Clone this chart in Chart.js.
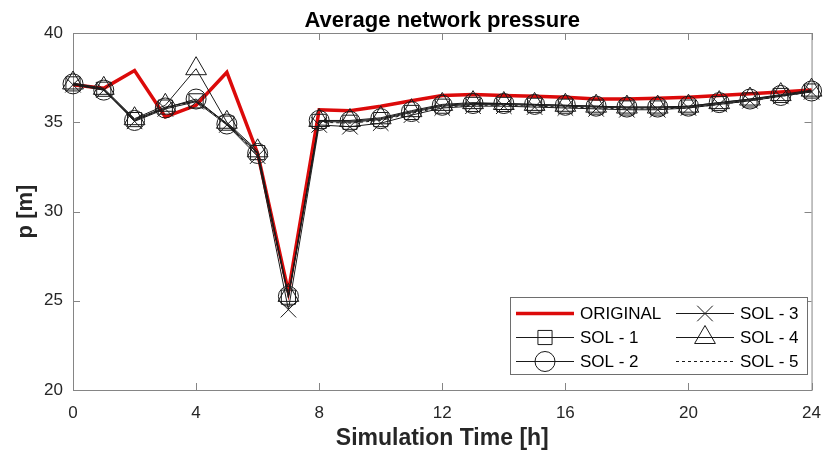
<!DOCTYPE html>
<html>
<head>
<meta charset="utf-8">
<script src="https://cdn.jsdelivr.net/npm/chart.js@4/dist/chart.umd.min.js"></script>
<style>
  html, body { margin: 0; padding: 0; background: #fff; }
  #wrap { width: 834px; height: 458px; }
</style>
</head>
<body>
<div id="wrap"><canvas id="showdata" width="834" height="458"></canvas></div>
<script>
// hours of simulation
const hours = [0, 1, 2, 3, 4, 5, 6, 7, 8, 9, 10, 11, 12, 13, 14, 15, 16, 17, 18, 19, 20, 21, 22, 23, 24];

// average pressure p [m]
const original = [37.1, 36.9, 37.9, 35.3, 35.95, 37.8, 33.25, 25.5, 35.7, 35.65, 35.9, 36.2, 36.5, 36.55, 36.5, 36.45, 36.4, 36.3, 36.3, 36.35, 36.4, 36.5, 36.6, 36.7, 36.8];
const sol1 = [37.15, 36.85, 35.15, 35.85, 36.2, 34.95, 33.3, 25.2, 35.05, 35.0, 35.15, 35.55, 35.9, 36.0, 36.0, 35.95, 35.9, 35.85, 35.8, 35.8, 35.85, 36.05, 36.25, 36.5, 36.75];
const sol2 = [37.15, 36.8, 35.1, 35.8, 36.3, 34.9, 33.25, 25.25, 35.1, 35.05, 35.2, 35.6, 35.95, 36.05, 36.05, 36.0, 35.95, 35.9, 35.85, 35.85, 35.9, 36.1, 36.3, 36.5, 36.75];
const sol3 = [37.1, 36.8, 35.05, 35.75, 36.15, 34.85, 33.1, 24.5, 34.85, 34.75, 34.95, 35.4, 35.8, 35.9, 35.9, 35.85, 35.8, 35.75, 35.7, 35.7, 35.8, 36.0, 36.2, 36.45, 36.7];
const sol4 = [37.2, 36.9, 35.2, 35.95, 38.0, 35.0, 33.4, 25.3, 35.1, 35.1, 35.25, 35.65, 36.0, 36.1, 36.05, 36.0, 35.95, 35.9, 35.85, 35.85, 35.9, 36.1, 36.3, 36.55, 36.8];
const sol5 = [37.1, 36.85, 35.1, 35.8, 36.2, 34.9, 33.2, 25.15, 35.0, 34.95, 35.1, 35.5, 35.85, 35.95, 35.95, 35.9, 35.85, 35.8, 35.75, 35.75, 35.8, 36.0, 36.2, 36.45, 36.7];

const seriesNames = ['ORIGINAL', 'SOL - 1', 'SOL - 2', 'SOL - 3', 'SOL - 4', 'SOL - 5'];
const xTicks = [0, 4, 8, 12, 16, 20, 24];
const yTicks = [20, 25, 30, 35, 40];

const FONT = "'Liberation Sans', Arial, Helvetica, sans-serif";
const AXIS_COLOR = '#858585';
const TEXT_COLOR = '#262626';

function pts(values) {
  return hours.map((h, i) => ({ x: h, y: values[i] }));
}

function solSet(label, values, style, radius, dash) {
  return {
    label: label,
    data: pts(values),
    borderColor: '#1a1a1a',
    borderWidth: 1,
    borderDash: dash || [],
    pointStyle: style,
    pointRadius: style ? radius : 0,
    pointHoverRadius: style ? radius : 0,
    pointBorderColor: '#1a1a1a',
    pointBackgroundColor: 'rgba(0,0,0,0)',
    pointBorderWidth: 1,
    tension: 0,
    clip: false,
    order: 0
  };
}

const datasets = [
  {
    label: seriesNames[0],
    data: pts(original),
    borderColor: '#dc0a0a',
    borderWidth: 3.5,
    pointRadius: 0,
    pointHoverRadius: 0,
    tension: 0,
    clip: false,
    order: 1
  },
  solSet(seriesNames[1], sol1, 'rect', 10),
  solSet(seriesNames[2], sol2, 'circle', 10),
  solSet(seriesNames[3], sol3, 'crossRot', 11),
  solSet(seriesNames[4], sol4, 'triangle', 12),
  solSet(seriesNames[5], sol5, false, 0, [3, 3])
];

// box round the axes with inward tick marks, matlab style
const axesBox = {
  id: 'axesBox',
  beforeDatasetsDraw(chart) {
    const ctx = chart.ctx;
    const a = chart.chartArea;
    const xs = chart.scales.x, ys = chart.scales.y;
    const tl = 7;
    ctx.save();
    ctx.strokeStyle = AXIS_COLOR;
    ctx.lineWidth = 1;
    ctx.strokeRect(a.left + 0.5, a.top + 0.5, a.right - a.left, a.bottom - a.top);
    ctx.beginPath();
    xTicks.forEach(v => {
      const px = Math.round(xs.getPixelForValue(v)) + 0.5;
      ctx.moveTo(px, a.bottom); ctx.lineTo(px, a.bottom - tl);
      ctx.moveTo(px, a.top); ctx.lineTo(px, a.top + tl);
    });
    yTicks.forEach(v => {
      const py = Math.round(ys.getPixelForValue(v)) + 0.5;
      ctx.moveTo(a.left, py); ctx.lineTo(a.left + tl, py);
      ctx.moveTo(a.right, py); ctx.lineTo(a.right - tl, py);
    });
    ctx.stroke();
    ctx.restore();
  },
  afterDraw(chart) {
    // title centred over the axes
    const ctx = chart.ctx;
    const a = chart.chartArea;
    ctx.save();
    ctx.fillStyle = '#000';
    ctx.font = 'bold 22px ' + FONT;
    ctx.textAlign = 'center';
    ctx.textBaseline = 'alphabetic';
    ctx.fillText('Average network pressure', (a.left + a.right) / 2, 27);
    ctx.restore();
  }
};

// legend box inside the plot, two columns
const boxLegend = {
  id: 'boxLegend',
  afterDraw(chart) {
    const ctx = chart.ctx;
    const bx = 510, by = 297, bw = 297, bh = 77;
    const rows = [313, 337, 361];
    const cols = [{ l0: 516, l1: 574, t: 580 }, { l0: 676, l1: 734, t: 740 }];
    ctx.save();
    ctx.fillStyle = '#fff';
    ctx.fillRect(bx, by, bw, bh);
    ctx.strokeStyle = '#6e6e6e';
    ctx.lineWidth = 1;
    ctx.strokeRect(bx + 0.5, by + 0.5, bw, bh);
    chart.data.datasets.forEach((ds, i) => {
      const c = cols[Math.floor(i / 3)];
      const y = rows[i % 3];
      ctx.save();
      ctx.strokeStyle = ds.borderColor;
      ctx.lineWidth = ds.borderWidth;
      ctx.setLineDash(ds.borderDash || []);
      ctx.beginPath();
      ctx.moveTo(c.l0, y + 0.5);
      ctx.lineTo(c.l1, y + 0.5);
      ctx.stroke();
      ctx.restore();
      if (ds.pointStyle && ds.pointRadius > 0) {
        ctx.save();
        ctx.strokeStyle = ds.pointBorderColor;
        ctx.fillStyle = 'rgba(0,0,0,0)';
        ctx.lineWidth = 1;
        Chart.helpers.drawPoint(ctx, {
          pointStyle: ds.pointStyle, rotation: 0, radius: ds.pointRadius, borderWidth: 1
        }, (c.l0 + c.l1) / 2, y + 0.5);
        ctx.restore();
      }
      ctx.fillStyle = '#000';
      ctx.font = '17px ' + FONT;
      ctx.textAlign = 'left';
      ctx.textBaseline = 'middle';
      ctx.fillText(ds.label, c.t, y + 1);
    });
    ctx.restore();
  }
};

const ctx = document.getElementById('showdata').getContext('2d');
new Chart(ctx, {
  type: 'line',
  data: { datasets: datasets },
  options: {
    responsive: false,
    animation: false,
    devicePixelRatio: 1,
    layout: { padding: { left: 0, right: 12, top: 33, bottom: 0 } },
    plugins: {
      legend: { display: false },
      title: { display: false },
      tooltip: { enabled: false }
    },
    scales: {
      x: {
        type: 'linear',
        min: 0,
        max: 24,
        afterFit(scale) { scale.height = 68; },
        afterBuildTicks(scale) { scale.ticks = xTicks.map(v => ({ value: v })); },
        grid: { display: false, drawTicks: false },
        border: { display: false },
        ticks: { padding: 13, color: TEXT_COLOR, font: { family: FONT, size: 17 }, maxRotation: 0 },
        title: {
          display: true,
          text: 'Simulation Time [h]',
          color: TEXT_COLOR,
          font: { family: FONT, size: 23, weight: 'bold' },
          padding: { top: 0, bottom: 6 }
        }
      },
      y: {
        min: 20,
        max: 40,
        afterFit(scale) { scale.width = 73; },
        afterBuildTicks(scale) { scale.ticks = yTicks.map(v => ({ value: v })); },
        grid: { display: false, drawTicks: false },
        border: { display: false },
        ticks: { padding: 10, color: TEXT_COLOR, font: { family: FONT, size: 17 } },
        title: {
          display: true,
          text: 'p [m]',
          color: TEXT_COLOR,
          font: { family: FONT, size: 22, weight: 'bold' },
          padding: { top: 13, bottom: 0 }
        }
      }
    }
  },
  plugins: [axesBox, boxLegend]
});
</script>
</body>
</html>
